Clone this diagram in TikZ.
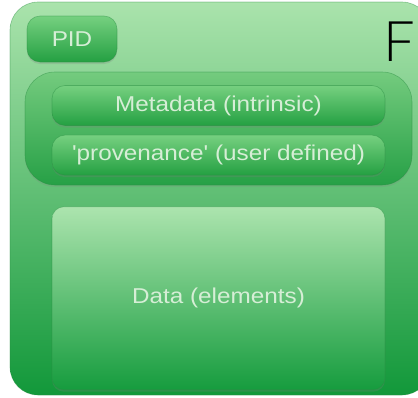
\documentclass[tikz,border=0pt]{standalone}
\usepackage{fontspec}
\setmainfont{Liberation Sans}
\newfontfamily\boxfont[FakeStretch=1.13]{Liberation Sans}
\newfontfamily\thinfont{Lato Light}
\usetikzlibrary{positioning,shadows}
\definecolor{outertop}{RGB}{170,227,172}
\definecolor{outerbot}{RGB}{18,152,58}
\definecolor{grptop}{RGB}{116,203,126}
\definecolor{grpbot}{RGB}{38,160,70}
\definecolor{pilltop}{RGB}{118,208,128}
\definecolor{pillbot}{RGB}{36,160,66}
\definecolor{datatop}{RGB}{172,228,174}
\definecolor{databot}{RGB}{22,156,62}
\definecolor{edge}{RGB}{40,140,65}
\definecolor{label}{RGB}{214,238,214}

\begin{document}
\begin{tikzpicture}[x=1pt, y=-1pt,
 base/.style  = {rectangle, inner sep=0pt, draw=edge, draw opacity=0.45, line width=0.6pt},
 frame/.style = {base, rounded corners=28pt, top color=outertop, bottom color=outerbot,
                 minimum width=420pt, minimum height=393pt},
 grp/.style   = {base, rounded corners=30pt, top color=grptop, bottom color=grpbot,
                 minimum width=387pt, minimum height=113pt,
                 drop shadow={opacity=0.2, shadow xshift=0pt, shadow yshift=-2pt}},
 pill/.style  = {base, rounded corners=13pt, top color=pilltop, bottom color=pillbot,
                 minimum width=333pt, minimum height=40pt,
                 drop shadow={opacity=0.25, shadow xshift=0pt, shadow yshift=-2pt},
                 text=label, font=\boxfont\fontsize{21.5}{24}\selectfont},
 pidbox/.style= {pill, minimum width=90pt, minimum height=46pt},
 datbox/.style= {pill, rounded corners=12pt, top color=datatop, bottom color=databot,
                 minimum height=183pt},
                        ]
    \useasboundingbox (0,0) rectangle (418,397);
    \clip (0,0) rectangle (418,397);

    \node [frame]                        (file)  at (220,198.5) {};
    \node [pidbox]                       (pid)   at (72,39)     {PID};
    \node [font=\thinfont\fontsize{56}{60}\selectfont] (f) at (399,42) {F};
    \node [grp]                          (meta)  at (218.5,128.5) {};
    \node [pill]                         (md)    at (218.5,105.5) {Metadata (intrinsic)};
    \node [pill, below=9pt of md]        (prov)  {'provenance' (user defined)};
    \node [datbox, below=31pt of prov]   (data)  {Data (elements)};
\end{tikzpicture}
\end{document}
